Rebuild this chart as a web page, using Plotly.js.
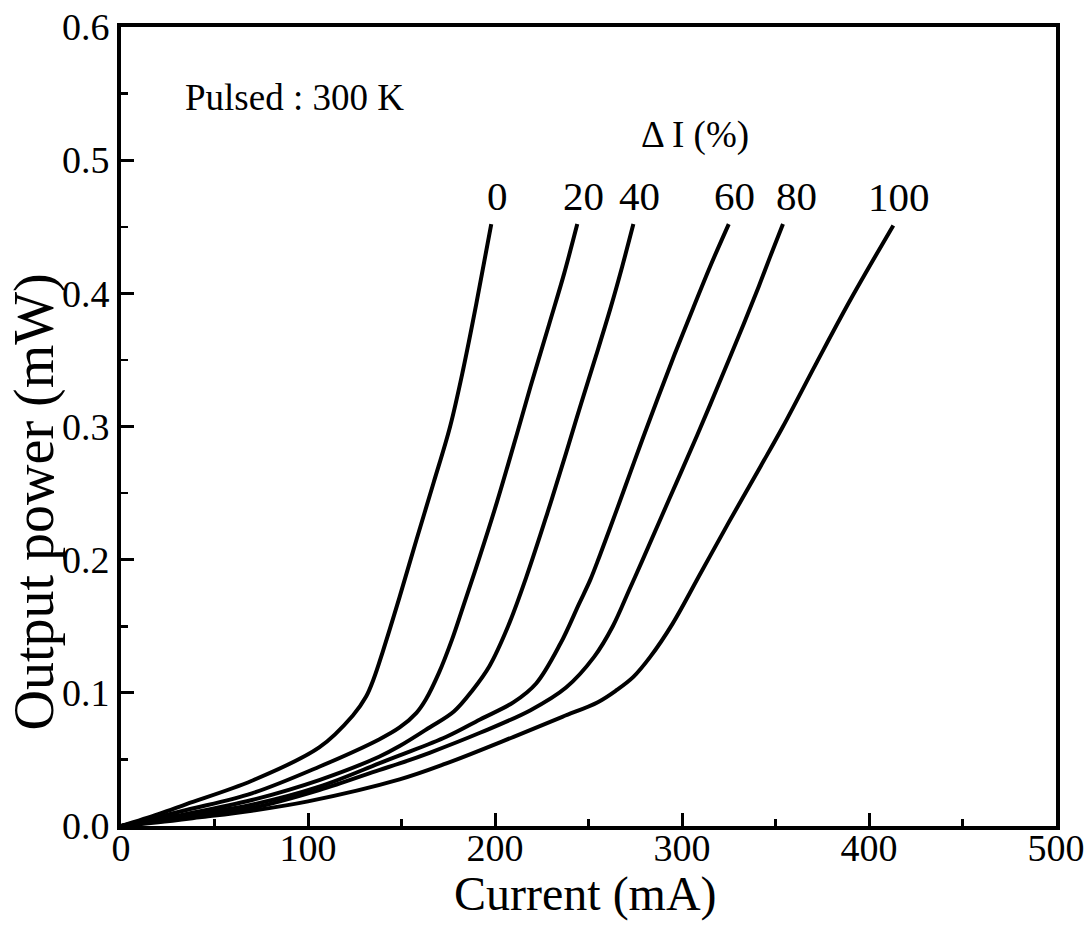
<!DOCTYPE html>
<html>
<head>
<meta charset="utf-8">
<script src="https://cdn.plot.ly/plotly-3.0.1.min.js"></script>
<style>
  html, body { margin: 0; padding: 0; background: #fff; }
  #chart { width: 1087px; height: 933px; }
</style>
</head>
<body>
<div id="chart"></div>
<script>
// Curve labels (ΔI in %)
const seriesNames = ['0', '20', '40', '60', '80', '100'];

// Current (mA) and output power (mW)
const current0 = [0, 20, 35, 70, 106, 124, 131, 135, 140, 149, 158, 167, 176, 183, 190, 198];
const power0   = [0, 0.009, 0.0165, 0.034, 0.059, 0.083, 0.097, 0.11, 0.131, 0.172, 0.215, 0.257, 0.3, 0.343, 0.392, 0.452];

const current20 = [0, 35, 70, 106, 138, 149, 158, 163, 170, 177, 183, 192, 201, 210, 219, 229, 237, 244];
const power20   = [0, 0.012, 0.0245, 0.0445, 0.065, 0.074, 0.085, 0.095, 0.115, 0.14, 0.165, 0.203, 0.243, 0.286, 0.33, 0.377, 0.415, 0.452];

const current40 = [0, 35, 70, 106, 138, 149, 165, 178, 188, 197, 207, 217, 228, 238, 246, 254, 262, 268, 274];
const power40   = [0, 0.009, 0.0195, 0.0345, 0.052, 0.06, 0.074, 0.086, 0.102, 0.12, 0.15, 0.188, 0.235, 0.28, 0.317, 0.353, 0.39, 0.42, 0.452];

const current60 = [0, 35, 70, 106, 138, 149, 174, 192, 210, 222, 235, 245, 251, 256, 265, 272, 279, 287, 296, 306, 315, 325];
const power60   = [0, 0.008, 0.016, 0.0295, 0.047, 0.053, 0.067, 0.08, 0.093, 0.107, 0.137, 0.167, 0.185, 0.203, 0.237, 0.264, 0.291, 0.321, 0.354, 0.389, 0.42, 0.452];

const current80 = [0, 35, 70, 106, 138, 149, 165, 192, 219, 238, 253, 263, 272, 279, 293, 308, 320, 333, 341, 347, 354];
const power80   = [0, 0.0065, 0.0135, 0.027, 0.042, 0.047, 0.055, 0.07, 0.087, 0.104, 0.127, 0.15, 0.178, 0.2, 0.245, 0.293, 0.333, 0.377, 0.405, 0.427, 0.452];

const current100 = [0, 20, 42, 70, 100, 149, 174, 210, 236, 255, 265, 274, 283, 295, 310, 325, 342, 354, 372, 390, 413];
const power100   = [0, 0.0028, 0.0065, 0.0115, 0.0185, 0.035, 0.047, 0.067, 0.082, 0.093, 0.102, 0.112, 0.127, 0.152, 0.19, 0.228, 0.27, 0.3, 0.348, 0.395, 0.451];

// Text
const xTitle = 'Current (mA)';
const yTitle = 'Output power (mW)';
const conditionText = 'Pulsed : 300 K';
const legendTitle = 'Δ I (%)';

const xs = [current0, current20, current40, current60, current80, current100];
const ys = [power0, power20, power40, power60, power80, power100];

const FONT = '"Liberation Serif", "Times New Roman", Times, serif';

const traces = xs.map((x, i) => ({
  x: x, y: ys[i], name: seriesNames[i],
  type: 'scatter', mode: 'lines',
  line: { color: '#000', width: 4, shape: 'spline', smoothing: 1 },
  hoverinfo: 'skip', showlegend: false
}));

const annotations = [];
xs.forEach((x, i) => {
  annotations.push({
    x: x[x.length - 1], y: ys[i][ys[i].length - 1],
    xref: 'x', yref: 'y', text: seriesNames[i], showarrow: false,
    xanchor: 'center', yanchor: 'middle', xshift: i === 4 ? 14 : 6, yshift: 28,
    font: { family: FONT, size: 41, color: '#000' }
  });
});
annotations.push({
  x: 93, y: 0.547, xref: 'x', yref: 'y', text: conditionText, showarrow: false,
  xanchor: 'center', yanchor: 'middle', font: { family: FONT, size: 37, color: '#000' }
});
annotations.push({
  x: 307, y: 0.519, xref: 'x', yref: 'y', text: legendTitle, showarrow: false,
  xanchor: 'center', yanchor: 'middle', font: { family: FONT, size: 37, color: '#000' }
});
annotations.push({
  x: -0.093, y: 0.405, xref: 'paper', yref: 'paper', text: yTitle, showarrow: false,
  textangle: -90, xanchor: 'center', yanchor: 'middle',
  font: { family: FONT, size: 56, color: '#000' }
});
annotations.push({
  x: 0.497, y: -0.085, xref: 'paper', yref: 'paper', text: xTitle, showarrow: false,
  xanchor: 'center', yanchor: 'middle',
  font: { family: FONT, size: 48, color: '#000' }
});

const axisCommon = {
  showgrid: false, zeroline: false,
  showline: true, linecolor: '#000', linewidth: 4, mirror: true,
  ticks: 'inside', ticklen: 13, tickwidth: 3, tickcolor: '#000',
  tickfont: { family: FONT, size: 38, color: '#000' },
  minor: { ticks: 'inside', ticklen: 7, tickwidth: 2.5, tickcolor: '#000' }
};

const layout = {
  width: 1087, height: 933,
  margin: { l: 121, r: 31, t: 27, b: 107 },
  paper_bgcolor: '#fff', plot_bgcolor: '#fff',
  showlegend: false,
  xaxis: Object.assign({}, axisCommon, {
    range: [0, 500], tickvals: [0, 100, 200, 300, 400, 500],
    minor: Object.assign({}, axisCommon.minor, { dtick: 50, tick0: 0 }),
    ticklabelstandoff: -15
  }),
  yaxis: Object.assign({}, axisCommon, {
    range: [0, 0.6], dtick: 0.1, tick0: 0, tickformat: '.1f',
    minor: Object.assign({}, axisCommon.minor, { dtick: 0.05, tick0: 0 }),
    ticklabelstandoff: 0
  }),
  annotations: annotations
};

Plotly.newPlot('chart', traces, layout, { staticPlot: true, displayModeBar: false });
</script>
</body>
</html>
